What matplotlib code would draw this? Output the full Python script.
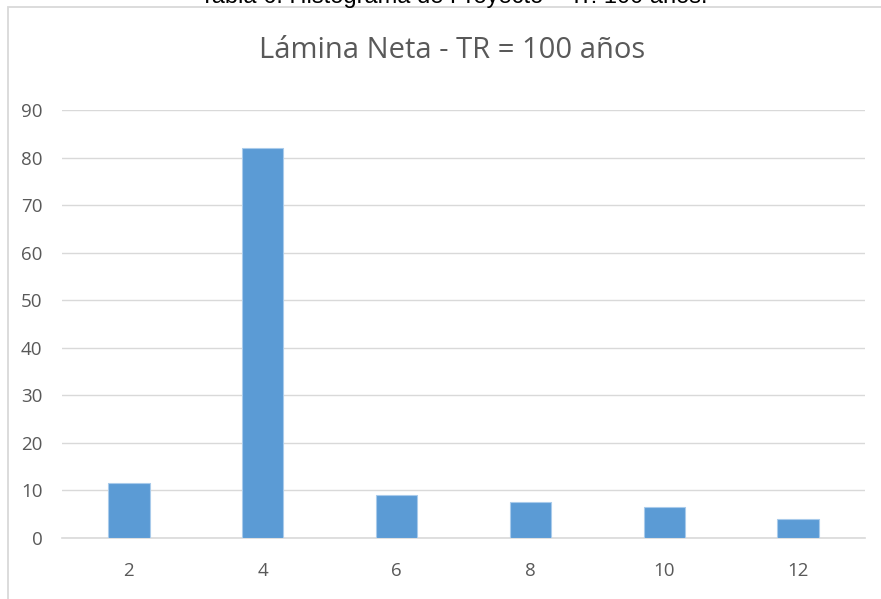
import matplotlib.pyplot as plt
from matplotlib.patches import Rectangle

# datos del histograma
clases = ['2', '4', '6', '8', '10', '12']
frecuencia = [11.6, 82.0, 9.1, 7.6, 6.6, 4.1]
marcas_y = [0, 10, 20, 30, 40, 50, 60, 70, 80, 90]

gris = '#595959'
linea = '#d9d9d9'

fig = plt.figure(figsize=(8.81, 5.99), dpi=100)

# marco del gráfico
fig.patches.append(Rectangle((8 / 881, -0.1), 1.0, 1 - 7.5 / 599 + 0.1,
                             transform=fig.transFigure, fill=False,
                             edgecolor=linea, linewidth=1.3))

# rótulo de la tabla (cortado arriba)
fig.text(0.515, 1 - 2.5 / 599, 'Tabla 6. Histograma de Proyecto – Tr: 100 años.',
         ha='center', va='baseline', fontsize=17, color='black',
         family='Liberation Sans')

ax = fig.add_axes([62 / 881, 1 - 538 / 599, (865 - 62) / 881, (538 - 110) / 599])

x = list(range(len(clases)))
ax.bar(x, frecuencia, width=0.31, color='#5b9bd5', edgecolor='#a9cbeb', linewidth=0.8, zorder=3)

ax.set_xlim(-0.5, len(clases) - 0.5)
ax.set_ylim(0, 90)
ax.set_yticks(marcas_y)
ax.set_xticks(x)
ax.set_xticklabels(clases)

ax.grid(axis='y', color=linea, linewidth=1, zorder=0)
for s in ['top', 'right', 'left']:
    ax.spines[s].set_visible(False)
ax.spines['bottom'].set_color(linea)
ax.spines['bottom'].set_linewidth(1.2)
ax.tick_params(axis='both', length=0, labelsize=13.5, labelcolor=gris)
ax.tick_params(axis='y', pad=14)
ax.tick_params(axis='x', pad=17)
for t in ax.get_xticklabels() + ax.get_yticklabels():
    t.set_family('Open Sans')

fig.text(0.513, 1 - 50 / 599, 'Lámina Neta - TR = 100 años', ha='center', va='center',
         fontsize=21, color=gris, family='Open Sans')

fig.savefig('out.png', dpi=100)
